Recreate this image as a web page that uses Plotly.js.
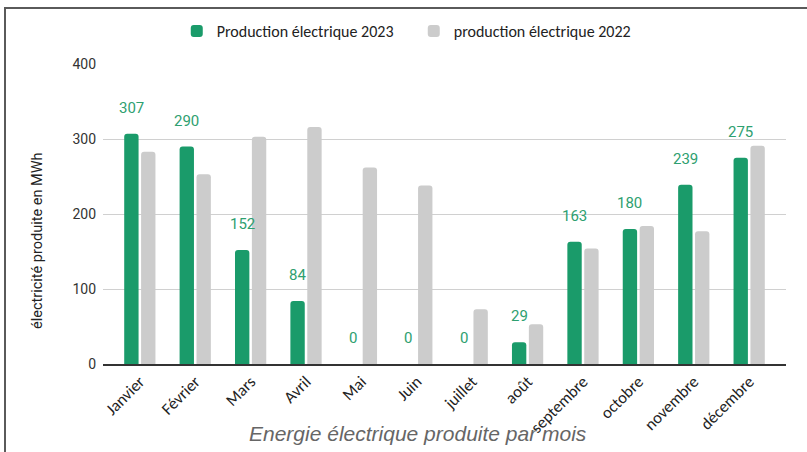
<!DOCTYPE html>
<html>
<head>
<meta charset="utf-8">
<script src="https://cdn.plot.ly/plotly-3.0.1.min.js"></script>
<style>
html,body{margin:0;padding:0;background:#fff;}
#wrap{position:relative;width:807px;height:452px;overflow:hidden;}
#chart{width:807px;height:452px;}
#frame{position:absolute;left:4px;top:7px;width:820px;height:520px;border-top:2px solid #5a5a5a;border-left:2px solid #5a5a5a;pointer-events:none;}
</style>
</head>
<body>
<div id="wrap"><div id="chart"></div><div id="frame"></div></div>
<script>
const months = ["Janvier","Février","Mars","Avril","Mai","Juin","juillet","août","septembre","octobre","novembre","décembre"];
const prod2023 = [307, 290, 152, 84, 0, 0, 0, 29, 163, 180, 239, 275];
const prod2022 = [283, 253, 303, 316, 262, 238, 73, 53, 154, 184, 177, 291];
const name2023 = "Production électrique 2023";
const name2022 = "production électrique 2022";
const yTicks = [0, 100, 200, 300, 400];
const xTitle = "Energie électrique produite par mois";
const yTitle = "électricité produite en MWh";

const green = "#1a9b6a";
const grey = "#cccccc";
const labelFont = "Calibri, Carlito, 'Open Sans', sans-serif";

const traces = [
  {type:"bar", x:months, y:prod2023, name:name2023, marker:{color:green, cornerradius:3}, hoverinfo:"y"},
  {type:"bar", x:months, y:prod2022, name:name2022, marker:{color:grey, cornerradius:3}, hoverinfo:"y"}
];

const annotations = prod2023.map((v,i)=>({
  x: months[i], y: v, xref:"x", yref:"y", text: String(v), showarrow:false,
  xshift:-8.5, yshift:26, yanchor:"middle",
  font:{family:"Roboto, sans-serif", size:15, color:"#2ea070"}
}));
annotations.push({
  xref:"paper", yref:"paper", x:0.461, y:-0.23, text:xTitle, showarrow:false,
  xanchor:"center", yanchor:"middle",
  font:{family:"'Liberation Sans', Arial, sans-serif", size:21, color:"#666666", style:"italic"}
});
annotations.push({
  xref:"paper", yref:"paper", x:-0.0966, y:0.41, text:yTitle, showarrow:false, textangle:-90,
  xanchor:"center", yanchor:"middle",
  font:{family:"Roboto, 'Open Sans', sans-serif", size:14.5, color:"#222222"}
});

const layout = {
  width:807, height:452,
  margin:{l:103, r:21, t:64, b:88},
  paper_bgcolor:"#fff", plot_bgcolor:"#fff",
  barmode:"group", bargap:0.39, bargroupgap:0.15,
  showlegend:true,
  legend:{orientation:"h", x:0.108, xanchor:"left", y:1.11, yanchor:"middle", entrywidth:192,
          font:{family:labelFont, size:16, color:"#222"}, traceorder:"normal"},
  xaxis:{type:"category", range:[-0.665, 11.665], tickangle:-45, showgrid:false,
         showline:true, linecolor:"#333", linewidth:1.5, ticks:"",
         tickfont:{family:labelFont, size:16.5, color:"#222"}, fixedrange:true},
  yaxis:{range:[0,400], tickvals:yTicks, ticktext:yTicks.map(String), showgrid:true, gridcolor:"#d0d0d0", gridwidth:1,
         zeroline:false, showline:false, ticks:"", ticklabelstandoff:6,
         tickfont:{family:"Roboto, sans-serif", size:14, color:"#333"}, fixedrange:true},
  annotations:annotations
};

Plotly.newPlot("chart", traces, layout, {displayModeBar:false, staticPlot:true});
</script>
</body>
</html>
